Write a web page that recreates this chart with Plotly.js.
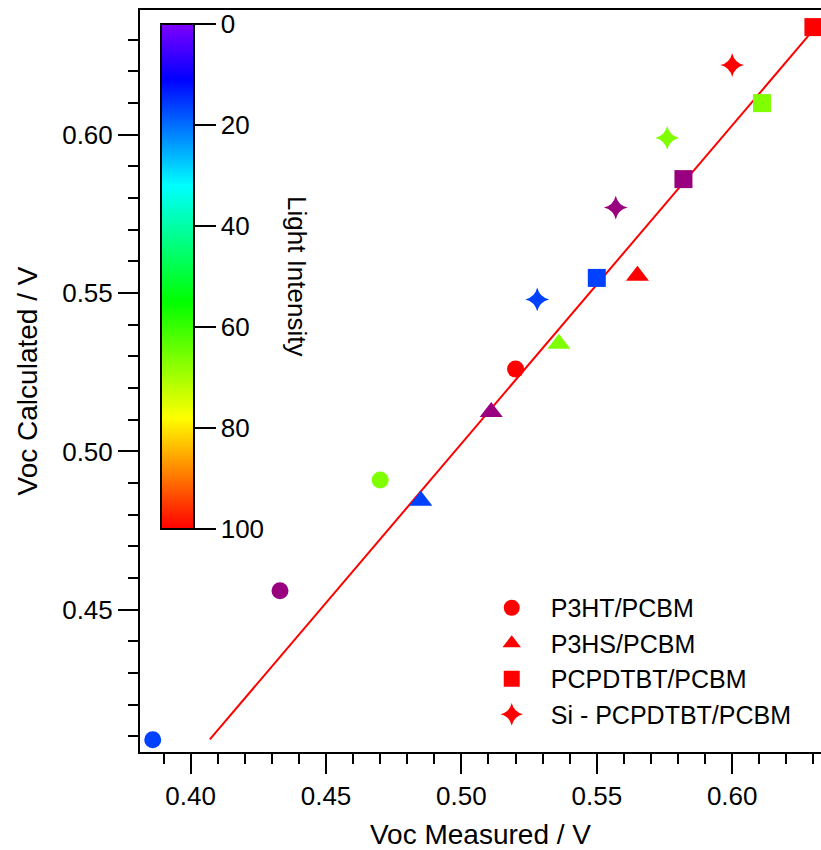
<!DOCTYPE html>
<html>
<head>
<meta charset="utf-8">
<script src="https://cdn.plot.ly/plotly-3.0.1.min.js"></script>
<style>html,body{margin:0;padding:0;background:#fff;}#chart{width:821px;height:850px;}</style>
</head>
<body>
<div id="chart"></div>
<script>
// Data
const seriesNames = ['P3HT/PCBM', 'P3HS/PCBM', 'PCPDTBT/PCBM', 'Si - PCPDTBT/PCBM'];
// point order within each series: red, green, purple, blue
const p3htX = [0.520, 0.470, 0.433, 0.386];
const p3htY = [0.526, 0.491, 0.456, 0.409];
const p3hsX = [0.565, 0.536, 0.511, 0.485];
const p3hsY = [0.5555, 0.534, 0.5125, 0.4844];
const pcpdtbtX = [0.630, 0.611, 0.582, 0.550];
const pcpdtbtY = [0.634, 0.610, 0.586, 0.5548];
const siX = [0.600, 0.576, 0.557, 0.528];
const siY = [0.622, 0.599, 0.577, 0.548];
const fitX = [0.4071, 0.6281];
const fitY = [0.4091, 0.6312];
const cbTickLabels = ['100', '80', '60', '40', '20', '0'];
const cbTickValues = [100, 80, 60, 40, 20, 0];

// styles
const pointColors = ['#ff0000', '#80ff00', '#990080', '#0040ff'];
const symbols = ['circle', 'triangle-up', 'square', 'star-diamond'];
const sizes = [17, 20, 18, 17];
const FONT = 'Liberation Sans, Arial, Helvetica, sans-serif';

const xs = [p3htX, p3hsX, pcpdtbtX, siX];
const ys = [p3htY, p3hsY, pcpdtbtY, siY];

const traces = [];
traces.push({
  x: fitX, y: fitY, mode: 'lines', type: 'scatter',
  line: {color: '#ff0000', width: 2}, showlegend: false, hoverinfo: 'skip'
});
for (let i = 0; i < 4; i++) {
  traces.push({
    x: xs[i], y: ys[i], mode: 'markers', type: 'scatter', name: seriesNames[i],
    marker: {symbol: symbols[i], size: sizes[i], color: pointColors, line: {width: 0}},
    hoverinfo: 'skip'
  });
}
// colorbar carrier (reversed axis: 0 on top, 100 at bottom)
traces.push({
  x: [null], y: [null], type: 'scatter', mode: 'markers', showlegend: false, hoverinfo: 'skip',
  marker: {
    color: [0], cmin: -100, cmax: 0, showscale: true,
    colorscale: [
      [0, '#ff0000'], [0.22, '#ffff00'], [0.45, '#00ff00'],
      [0.68, '#00ffff'], [0.89, '#0000ff'], [1, '#8000ff']
    ],
    colorbar: {
      x: 0.0308, xanchor: 'left', xref: 'paper', xpad: 0,
      y: 0.9811, yanchor: 'top', yref: 'paper', ypad: 0,
      len: 505, lenmode: 'pixels', thickness: 33, thicknessmode: 'pixels',
      outlinewidth: 2, outlinecolor: '#000',
      tickvals: cbTickValues.map(v => -v), ticktext: cbTickLabels,
      ticks: 'outside', ticklen: 21, tickwidth: 2, tickcolor: '#000',
      tickfont: {family: FONT, size: 26, color: '#000'},
      title: {text: ''}
    }
  }
});

const layout = {
  width: 821, height: 850,
  margin: {l: 140, r: 0, t: 10, b: 98},
  paper_bgcolor: '#fff', plot_bgcolor: '#fff',
  font: {family: FONT, size: 26, color: '#000'},
  showlegend: true,
  legend: {
    x: 0.4886, y: 0.2251, xanchor: 'left', yanchor: 'top',
    bgcolor: 'rgba(0,0,0,0)', borderwidth: 0,
    font: {family: FONT, size: 25, color: '#000'},
    itemwidth: 68, tracegroupgap: 0
  },
  xaxis: {
    range: [0.3813, 0.6328], tick0: 0.4, dtick: 0.05, tickformat: '.2f',
    ticks: 'outside', ticklen: 20, tickwidth: 2, tickcolor: '#000',
    showline: true, linewidth: 2, linecolor: '#000', mirror: true,
    showgrid: false, zeroline: false,
    tickfont: {family: FONT, size: 26, color: '#000'},
    minor: {tick0: 0.4, dtick: 0.01, ticks: 'outside', ticklen: 10, tickwidth: 2, tickcolor: '#000', showgrid: false},
    title: {text: 'Voc Measured / V', font: {family: FONT, size: 28, color: '#000'}, standoff: 14}
  },
  yaxis: {
    range: [0.4051, 0.6394], tick0: 0.45, dtick: 0.05, tickformat: '.2f',
    ticks: 'outside', ticklen: 20, tickwidth: 2, tickcolor: '#000',
    showline: true, linewidth: 2, linecolor: '#000',
    showgrid: false, zeroline: false,
    tickfont: {family: FONT, size: 26, color: '#000'},
    minor: {tick0: 0.45, dtick: 0.01, ticks: 'outside', ticklen: 10, tickwidth: 2, tickcolor: '#000', showgrid: false},
    title: {text: 'Voc Calculated / V', font: {family: FONT, size: 28, color: '#000'}, standoff: 16}
  },
  annotations: [{
    text: 'Light Intensity', textangle: 90, showarrow: false,
    xref: 'paper', yref: 'paper', x: 0.2305, y: 0.6415,
    xanchor: 'center', yanchor: 'middle',
    font: {family: FONT, size: 26, color: '#000'}
  }]
};

Plotly.newPlot('chart', traces, layout, {displayModeBar: false, staticPlot: true});
</script>
</body>
</html>
